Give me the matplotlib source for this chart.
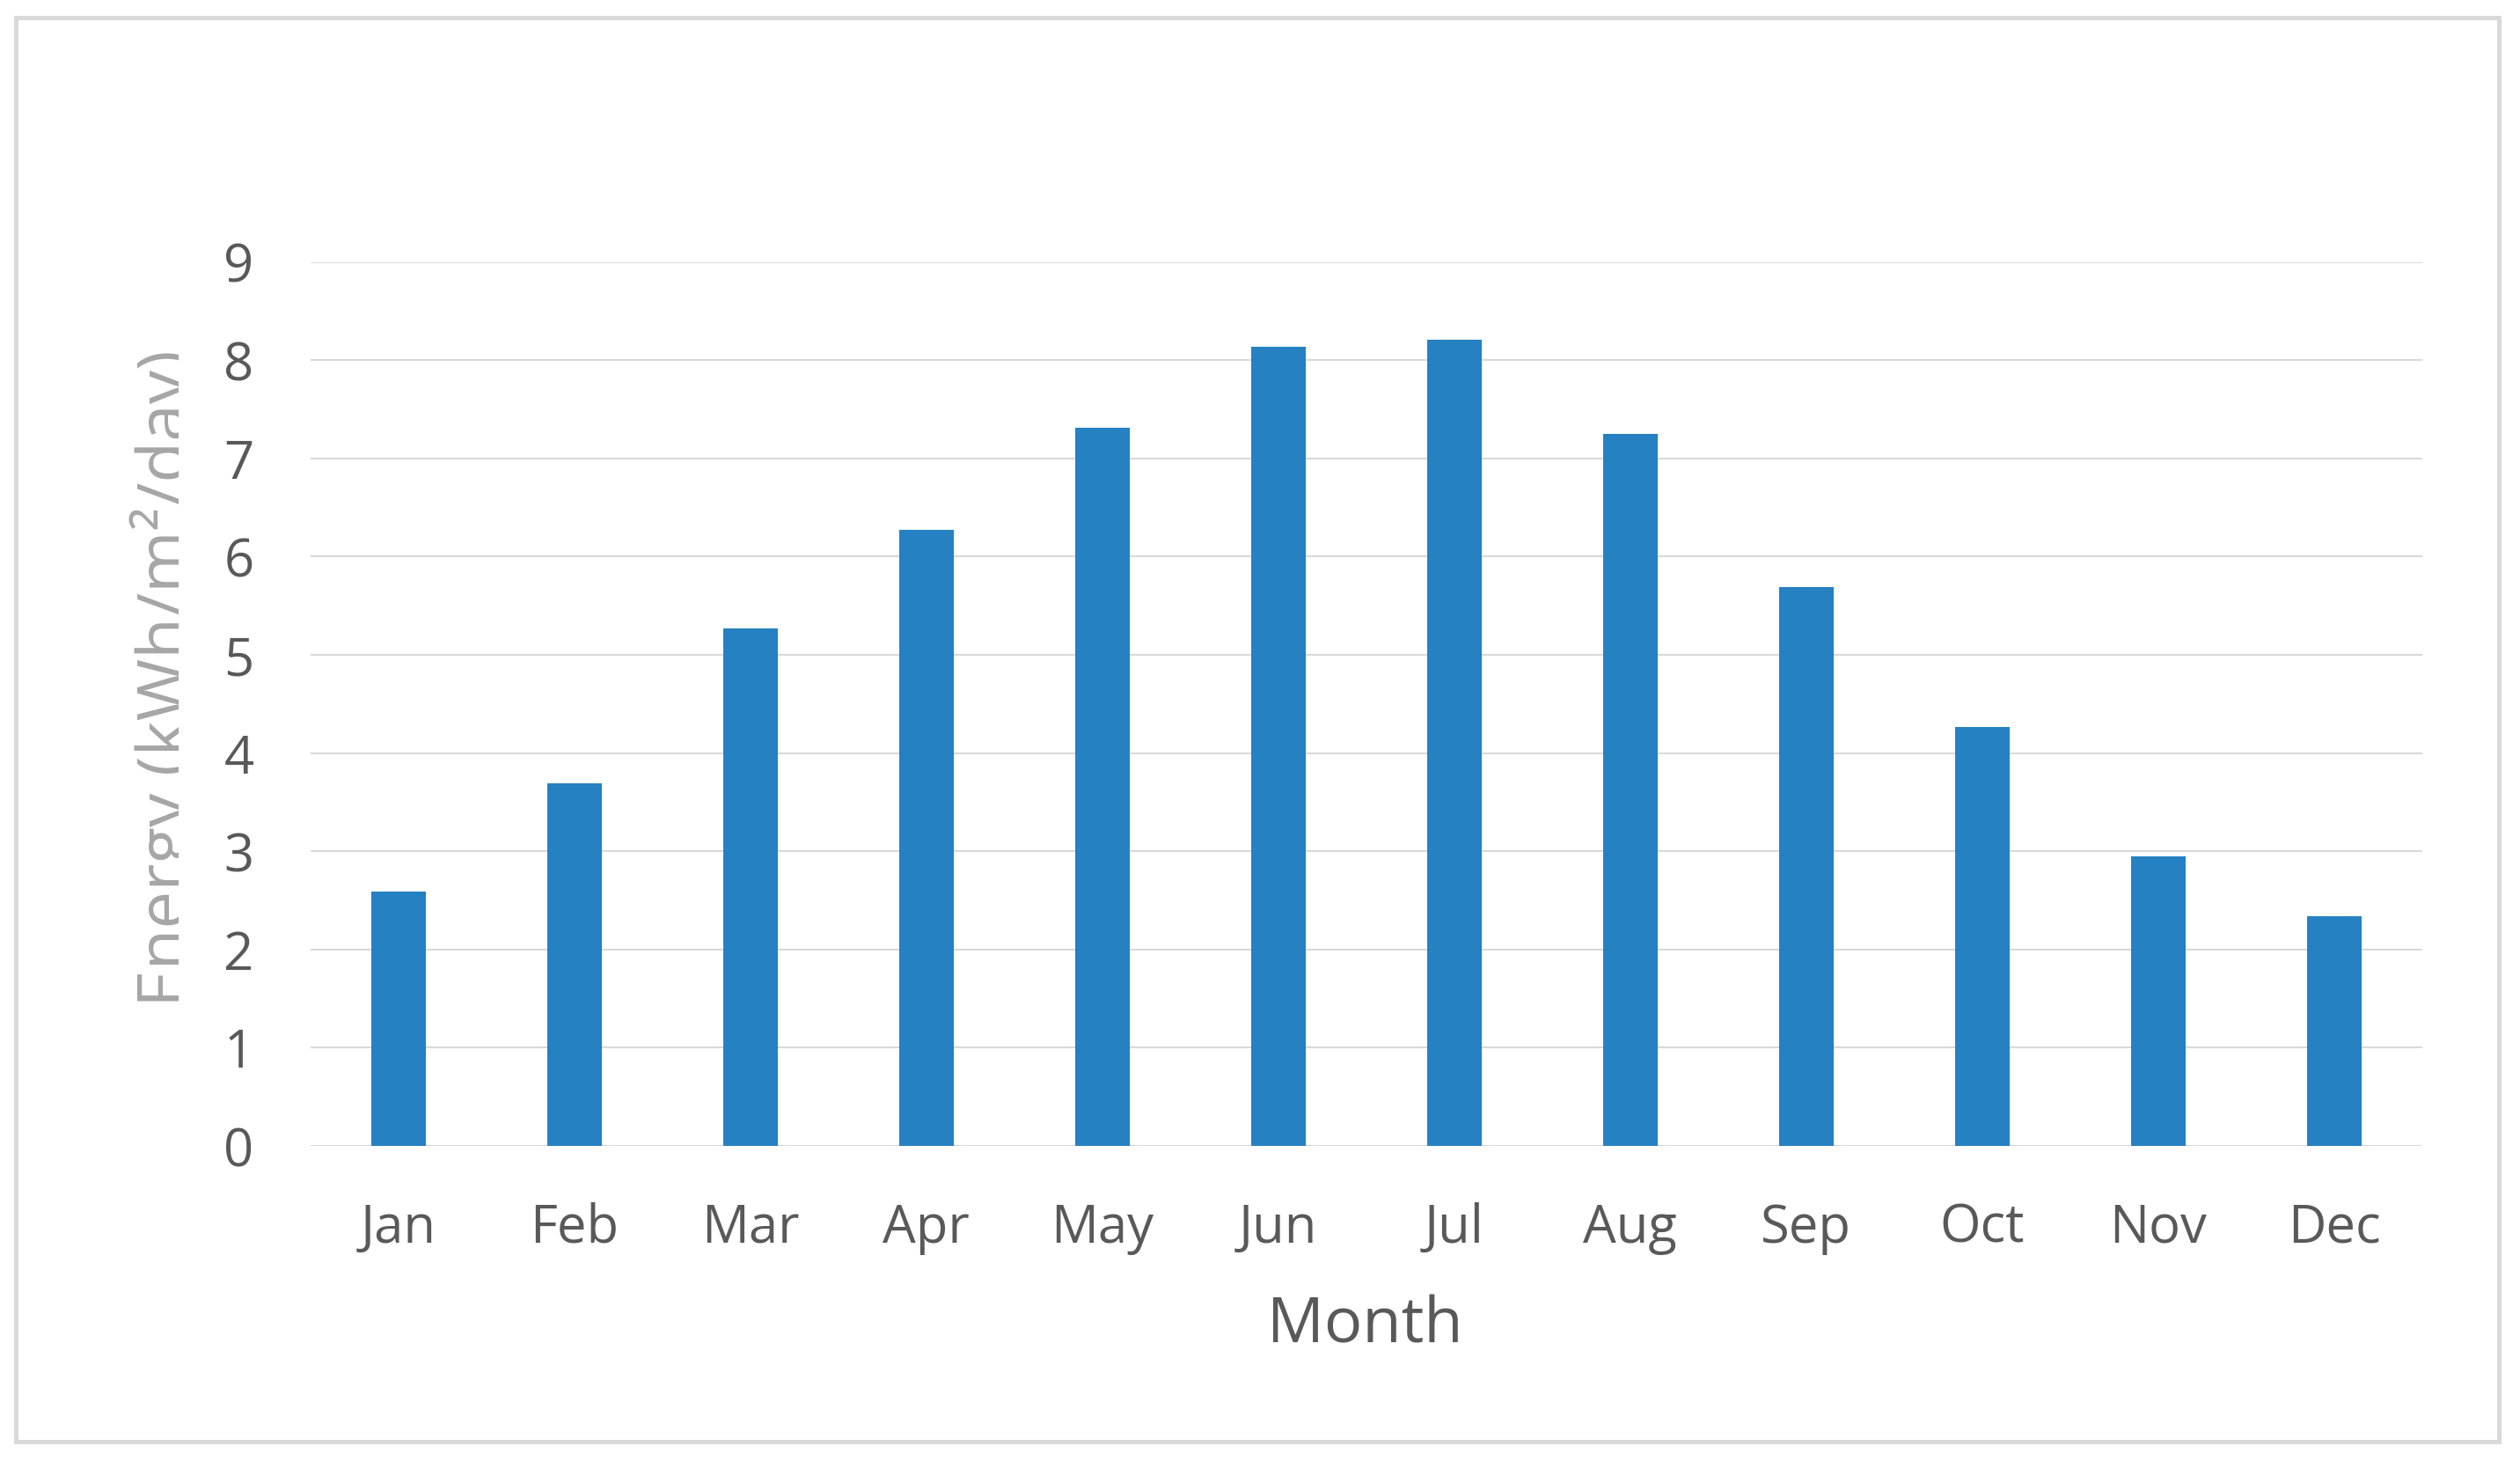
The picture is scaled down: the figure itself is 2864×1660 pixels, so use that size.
import matplotlib
matplotlib.use("Agg")
import matplotlib.pyplot as plt
from matplotlib.patches import Rectangle
from matplotlib.transforms import IdentityTransform

months = ["Jan", "Feb", "Mar", "Apr", "May", "Jun", "Jul", "Aug", "Sep", "Oct", "Nov", "Dec"]
energy = [2.59, 3.69, 5.27, 6.27, 7.31, 8.14, 8.21, 7.25, 5.69, 4.27, 2.95, 2.34]
yticks = [0, 1, 2, 3, 4, 5, 6, 7, 8, 9]

plt.rcParams['font.family'] = ['Open Sans', 'DejaVu Sans']

W, H, DPI = 2864, 1660, 100
fig = plt.figure(figsize=(W / DPI, H / DPI), dpi=DPI)
fig.patch.set_facecolor('white')

# outer frame
fig.patches.append(Rectangle((18 / W, 22 / H), (2840 - 18) / W, (1640 - 22) / H,
                             transform=fig.transFigure, fill=False,
                             edgecolor='#d9d9d9', linewidth=3.6))

ax = fig.add_axes([352.5 / W, 1 - 1302 / H, (2752.5 - 352.5) / W, (1302 - 297.7) / H])
x = list(range(len(months)))
ax.bar(x, energy, width=0.31, color='#2581c1', zorder=3)
ax.set_xlim(-0.5, len(months) - 0.5)
ax.set_ylim(0, 9)
ax.set_yticks(yticks)
ax.set_xticks(x)
ax.set_xticklabels(months)
ax.grid(axis='y', color='#d9d9d9', linewidth=1.5, zorder=0)
ax.set_axisbelow(True)
for s in ax.spines.values():
    s.set_visible(False)
ax.tick_params(axis='both', length=0, labelsize=43, labelcolor='#595959')
ax.tick_params(axis='y', pad=46)
ax.tick_params(axis='x', pad=46)

fig.text(1551 / W, 1 - 1507 / H, "Month", ha='center', va='center',
         fontsize=52, color='#595959')

yl = fig.text(147 / W, 1 - 771 / H, "Energy (kWh/m²/day)", rotation=90,
              ha='left', va='center', fontsize=55, color='#a6a6a6')
clip_rect = Rectangle((0, 0), 203, H, transform=IdentityTransform())
yl.set_clip_path(clip_rect)
yl.set_clip_on(True)

fig.savefig("out.png", dpi=DPI, facecolor='white')
